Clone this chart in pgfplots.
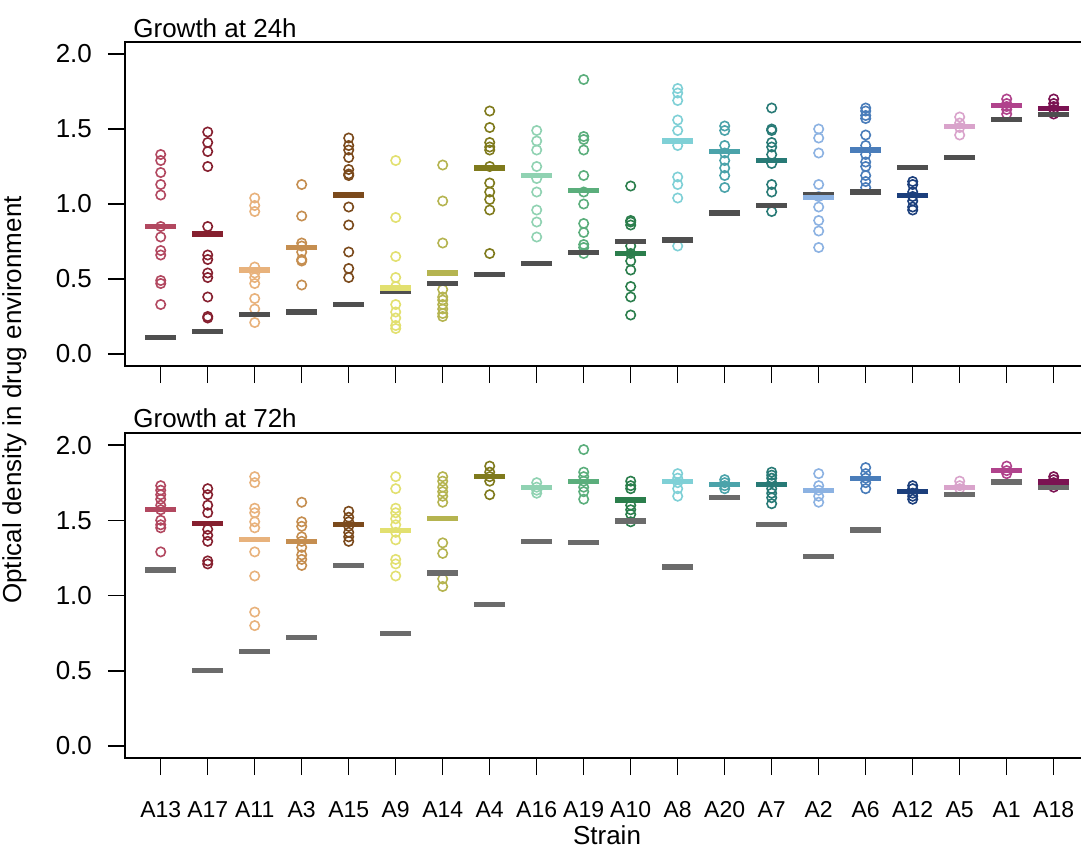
\documentclass[border=0pt]{standalone}
\usepackage{fontspec}
\setmainfont{Liberation Sans}
\usepackage{pgfplots}
\usepackage{pgfplotstable}
\pgfplotsset{compat=1.18}

\definecolor{cA13}{HTML}{B24860}
\definecolor{cA17}{HTML}{86202F}
\definecolor{cA11}{HTML}{E8B27C}
\definecolor{cA3}{HTML}{C58E50}
\definecolor{cA15}{HTML}{7B4A1C}
\definecolor{cA9}{HTML}{E2E070}
\definecolor{cA14}{HTML}{B5B450}
\definecolor{cA4}{HTML}{7F7A1C}
\definecolor{cA16}{HTML}{90D2B2}
\definecolor{cA19}{HTML}{5BAE7C}
\definecolor{cA10}{HTML}{2B7E4C}
\definecolor{cA8}{HTML}{7FD0D6}
\definecolor{cA20}{HTML}{4BA3AA}
\definecolor{cA7}{HTML}{287A76}
\definecolor{cA2}{HTML}{8CB2E2}
\definecolor{cA6}{HTML}{4A7DBA}
\definecolor{cA12}{HTML}{1C3F7C}
\definecolor{cA5}{HTML}{D9A3CB}
\definecolor{cA1}{HTML}{B0438C}
\definecolor{cA18}{HTML}{7B1252}
\definecolor{cgreyA}{HTML}{4F4F4F}
\definecolor{cgreyB}{HTML}{6B6B6B}

\pgfplotstableread{
x y c
1 1.33 A13
1 1.29 A13
1 1.21 A13
1 1.13 A13
1 1.06 A13
1 0.85 A13
1 0.78 A13
1 0.69 A13
1 0.66 A13
1 0.49 A13
1 0.47 A13
1 0.33 A13
2 1.48 A17
2 1.41 A17
2 1.35 A17
2 1.25 A17
2 0.85 A17
2 0.66 A17
2 0.63 A17
2 0.54 A17
2 0.51 A17
2 0.38 A17
2 0.25 A17
2 0.24 A17
3 1.04 A11
3 0.99 A11
3 0.95 A11
3 0.58 A11
3 0.54 A11
3 0.51 A11
3 0.47 A11
3 0.37 A11
3 0.30 A11
3 0.21 A11
4 1.13 A3
4 0.92 A3
4 0.74 A3
4 0.72 A3
4 0.68 A3
4 0.63 A3
4 0.62 A3
4 0.46 A3
5 1.44 A15
5 1.39 A15
5 1.36 A15
5 1.31 A15
5 1.23 A15
5 1.20 A15
5 1.19 A15
5 0.98 A15
5 0.86 A15
5 0.68 A15
5 0.57 A15
5 0.51 A15
6 1.29 A9
6 0.91 A9
6 0.65 A9
6 0.51 A9
6 0.45 A9
6 0.33 A9
6 0.28 A9
6 0.24 A9
6 0.19 A9
6 0.17 A9
7 1.26 A14
7 1.02 A14
7 0.74 A14
7 0.43 A14
7 0.38 A14
7 0.36 A14
7 0.33 A14
7 0.30 A14
7 0.27 A14
7 0.25 A14
8 1.62 A4
8 1.51 A4
8 1.41 A4
8 1.38 A4
8 1.36 A4
8 1.25 A4
8 1.14 A4
8 1.08 A4
8 1.03 A4
8 0.96 A4
8 0.67 A4
9 1.49 A16
9 1.42 A16
9 1.36 A16
9 1.25 A16
9 1.17 A16
9 1.08 A16
9 0.96 A16
9 0.88 A16
9 0.78 A16
10 1.83 A19
10 1.45 A19
10 1.43 A19
10 1.36 A19
10 1.19 A19
10 1.08 A19
10 1.00 A19
10 0.87 A19
10 0.81 A19
10 0.73 A19
10 0.71 A19
10 0.67 A19
11 1.12 A10
11 0.89 A10
11 0.88 A10
11 0.86 A10
11 0.72 A10
11 0.67 A10
11 0.62 A10
11 0.56 A10
11 0.45 A10
11 0.38 A10
11 0.26 A10
12 1.77 A8
12 1.74 A8
12 1.69 A8
12 1.56 A8
12 1.49 A8
12 1.39 A8
12 1.18 A8
12 1.13 A8
12 1.04 A8
12 0.72 A8
13 1.52 A20
13 1.49 A20
13 1.39 A20
13 1.34 A20
13 1.29 A20
13 1.24 A20
13 1.19 A20
13 1.11 A20
14 1.64 A7
14 1.50 A7
14 1.49 A7
14 1.41 A7
14 1.38 A7
14 1.33 A7
14 1.27 A7
14 1.13 A7
14 1.08 A7
14 0.95 A7
15 1.50 A2
15 1.44 A2
15 1.34 A2
15 1.13 A2
15 1.05 A2
15 0.98 A2
15 0.89 A2
15 0.82 A2
15 0.71 A2
16 1.64 A6
16 1.62 A6
16 1.59 A6
16 1.57 A6
16 1.46 A6
16 1.39 A6
16 1.33 A6
16 1.28 A6
16 1.25 A6
16 1.19 A6
16 1.15 A6
16 1.11 A6
17 1.15 A12
17 1.13 A12
17 1.08 A12
17 1.05 A12
17 1.02 A12
17 0.98 A12
17 0.96 A12
18 1.58 A5
18 1.54 A5
18 1.51 A5
18 1.46 A5
19 1.70 A1
19 1.67 A1
19 1.65 A1
19 1.63 A1
19 1.60 A1
20 1.70 A18
20 1.67 A18
20 1.65 A18
20 1.63 A18
20 1.60 A18
}\topC

\pgfplotstableread{
x m g c
1 0.85 0.11 A13
2 0.80 0.15 A17
3 0.56 0.265 A11
4 0.71 0.28 A3
5 1.06 0.33 A15
6 0.44 0.415 A9
7 0.54 0.47 A14
8 1.24 0.53 A4
9 1.19 0.605 A16
10 1.09 0.675 A19
11 0.67 0.75 A10
12 1.42 0.76 A8
13 1.35 0.94 A20
14 1.29 0.99 A7
15 1.045 1.06 A2
16 1.36 1.08 A6
17 1.055 1.245 A12
18 1.515 1.31 A5
19 1.655 1.565 A1
20 1.635 1.595 A18
}\topB

\pgfplotstableread{
x y c
1 1.73 A13
1 1.70 A13
1 1.67 A13
1 1.64 A13
1 1.60 A13
1 1.57 A13
1 1.50 A13
1 1.47 A13
1 1.45 A13
1 1.29 A13
2 1.71 A17
2 1.67 A17
2 1.60 A17
2 1.55 A17
2 1.44 A17
2 1.40 A17
2 1.36 A17
2 1.23 A17
2 1.21 A17
3 1.79 A11
3 1.75 A11
3 1.58 A11
3 1.55 A11
3 1.49 A11
3 1.45 A11
3 1.29 A11
3 1.13 A11
3 0.89 A11
3 0.80 A11
4 1.62 A3
4 1.49 A3
4 1.46 A3
4 1.39 A3
4 1.36 A3
4 1.32 A3
4 1.27 A3
4 1.24 A3
4 1.20 A3
5 1.56 A15
5 1.52 A15
5 1.49 A15
5 1.46 A15
5 1.42 A15
5 1.39 A15
5 1.36 A15
6 1.79 A9
6 1.71 A9
6 1.58 A9
6 1.55 A9
6 1.51 A9
6 1.47 A9
6 1.42 A9
6 1.37 A9
6 1.24 A9
6 1.21 A9
6 1.13 A9
7 1.79 A14
7 1.76 A14
7 1.72 A14
7 1.69 A14
7 1.66 A14
7 1.62 A14
7 1.35 A14
7 1.28 A14
7 1.11 A14
7 1.06 A14
8 1.86 A4
8 1.82 A4
8 1.79 A4
8 1.76 A4
8 1.67 A4
9 1.75 A16
9 1.72 A16
9 1.70 A16
9 1.68 A16
10 1.97 A19
10 1.82 A19
10 1.79 A19
10 1.76 A19
10 1.72 A19
10 1.69 A19
10 1.64 A19
11 1.76 A10
11 1.73 A10
11 1.71 A10
11 1.60 A10
11 1.57 A10
11 1.54 A10
11 1.49 A10
12 1.81 A8
12 1.78 A8
12 1.75 A8
12 1.71 A8
12 1.66 A8
13 1.77 A20
13 1.75 A20
13 1.73 A20
13 1.71 A20
14 1.82 A7
14 1.80 A7
14 1.78 A7
14 1.75 A7
14 1.71 A7
14 1.68 A7
14 1.65 A7
14 1.61 A7
15 1.81 A2
15 1.73 A2
15 1.70 A2
15 1.66 A2
15 1.62 A2
16 1.85 A6
16 1.81 A6
16 1.78 A6
16 1.75 A6
16 1.71 A6
17 1.73 A12
17 1.71 A12
17 1.68 A12
17 1.66 A12
17 1.64 A12
18 1.76 A5
18 1.73 A5
18 1.71 A5
19 1.86 A1
19 1.83 A1
19 1.81 A1
20 1.79 A18
20 1.77 A18
20 1.75 A18
20 1.72 A18
}\botC

\pgfplotstableread{
x m g c
1 1.57 1.17 A13
2 1.48 0.50 A17
3 1.37 0.63 A11
4 1.36 0.72 A3
5 1.47 1.20 A15
6 1.43 0.745 A9
7 1.51 1.15 A14
8 1.79 0.94 A4
9 1.72 1.36 A16
10 1.76 1.35 A19
11 1.635 1.495 A10
12 1.76 1.19 A8
13 1.74 1.65 A20
14 1.74 1.47 A7
15 1.70 1.26 A2
16 1.78 1.435 A6
17 1.69 1.69 A12
18 1.72 1.67 A5
19 1.83 1.755 A1
20 1.755 1.72 A18
}\botB

\pgfplotsset{
  strains/.style={scatter/classes={
    A13={cA13},A17={cA17},A11={cA11},A3={cA3},A15={cA15},
    A9={cA9},A14={cA14},A4={cA4},A16={cA16},A19={cA19},
    A10={cA10},A8={cA8},A20={cA20},A7={cA7},A2={cA2},
    A6={cA6},A12={cA12},A5={cA5},A1={cA1},A18={cA18}}},
  panel/.style={
    scale only axis, width=482.2pt,
    xmin=0.24, xmax=20.76, ymin=-0.08, ymax=2.08,
    axis line style={line width=0.75pt, black},
    tick align=outside, tick pos=left, major tick length=8.5pt,
    tick style={line width=0.75pt, black},
    xtick={1,...,20},
    ytick={0,0.5,1,1.5,2},
    yticklabels={0.0,0.5,1.0,1.5,2.0},
    yticklabel style={font=\fontsize{13}{15}\selectfont, anchor=east, xshift=-4.5pt},
    clip=false,
  },
  circ/.style={scatter, only marks, mark=o, mark size=2.35pt,
    mark options={line width=0.8pt},
    scatter src=explicit symbolic, strains},
  gbar/.style={only marks, mark=-, mark size=7.75pt,
    mark options={line width=2.6pt, draw=#1}},
  mbar/.style={scatter, only marks, mark=-, mark size=7.75pt,
    mark options={line width=2.6pt},
    scatter src=explicit symbolic, strains},
}

\begin{document}
\begin{tikzpicture}
\useasboundingbox (0,0) rectangle (540.5pt,-426.5pt);

\begin{axis}[panel, height=162pt, at={(62.5pt,-183pt)}, anchor=south west,
  xticklabels={}]
\addplot[circ] table[x=x,y=y,meta=c]{\topC};
\addplot[gbar=cgreyA] table[x=x,y=g]{\topB};
\addplot[mbar] table[x=x,y=m,meta=c]{\topB};
\end{axis}

\begin{axis}[panel, height=162.5pt, at={(62.5pt,-379pt)}, anchor=south west,
  xticklabels={A13,A17,A11,A3,A15,A9,A14,A4,A16,A19,A10,A8,A20,A7,A2,A6,A12,A5,A1,A18},
  xticklabel style={font=\fontsize{11.5}{13}\selectfont, anchor=base, yshift=-21pt}]
\addplot[circ] table[x=x,y=y,meta=c]{\botC};
\addplot[gbar=cgreyB] table[x=x,y=g]{\botB};
\addplot[mbar] table[x=x,y=m,meta=c]{\botB};
\end{axis}

\node[anchor=base west, inner sep=0, font=\fontsize{13}{15}\selectfont] at (66.5pt,-18.5pt) {Growth at 24h};
\node[anchor=base west, inner sep=0, font=\fontsize{13}{15}\selectfont] at (66.5pt,-213.5pt) {Growth at 72h};
\node[rotate=90, anchor=base, inner sep=0, font=\fontsize{13}{15}\selectfont] at (10.5pt,-200pt) {Optical density in drug environment};
\node[anchor=base, inner sep=0, font=\fontsize{13}{15}\selectfont] at (303.5pt,-422pt) {Strain};
\end{tikzpicture}
\end{document}
